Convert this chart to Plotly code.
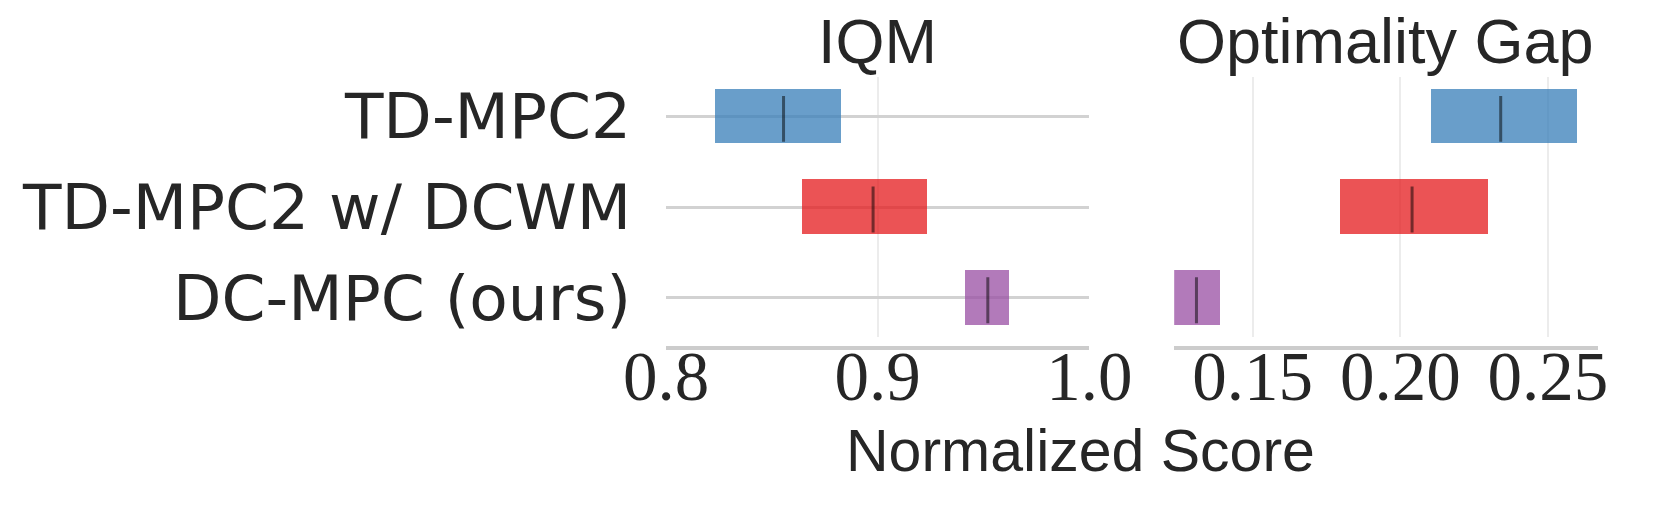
import plotly.graph_objects as go

# ---- data (bottom to top) ----
algorithms = ["DC-MPC (ours)", "TD-MPC2 w/ DCWM", "TD-MPC2"]
colors = ["rgba(152,78,163,0.75)", "rgba(228,26,28,0.75)", "rgba(55,126,184,0.75)"]

iqm_lower = [0.9414, 0.8642, 0.8232]
iqm_upper = [0.9619, 0.9232, 0.8829]
iqm_point = [0.9520, 0.8978, 0.8555]

gap_lower = [0.1235, 0.1796, 0.2104]
gap_upper = [0.1389, 0.2296, 0.2599]
gap_point = [0.1310, 0.2040, 0.2340]

panel_titles = ["IQM", "Optimality Gap"]
iqm_ticks = [0.8, 0.9, 1.0]
iqm_ticktext = ["0.8", "0.9", "1.0"]
gap_ticks = [0.15, 0.20, 0.25]
gap_ticktext = ["0.15", "0.20", "0.25"]
x_label = "Normalized Score"

W, H = 1660, 505
BAR_H = 0.6
TEXT = "#262626"

fig = go.Figure()

def add_panel(lower, upper, point, xa, ya):
    pos = list(range(len(algorithms)))
    fig.add_trace(go.Bar(
        y=pos, x=[u - l for l, u in zip(lower, upper)], base=lower,
        orientation="h", width=BAR_H,
        marker=dict(color=colors, line=dict(width=0)),
        xaxis=xa, yaxis=ya, showlegend=False, hoverinfo="skip"))
    xs, ys = [], []
    for p, m in zip(pos, point):
        xs += [m, m, None]
        ys += [p - 7.5 * BAR_H / 16, p + 6 * BAR_H / 16, None]
    fig.add_trace(go.Scatter(
        x=xs, y=ys, mode="lines", line=dict(color="rgba(0,0,0,0.5)", width=3),
        xaxis=xa, yaxis=ya, showlegend=False, hoverinfo="skip"))

add_panel(iqm_lower, iqm_upper, iqm_point, "x", "y")
add_panel(gap_lower, gap_upper, gap_point, "x2", "y2")

ydom = [(H - 336.7) / H, (H - 77.3) / H]
spine_y = (H - 348.3) / H
yrange = [-0.43, len(algorithms) - 1 + 0.43]

tickfont = dict(family="Liberation Serif, DejaVu Serif, serif", size=69, color=TEXT)
common_x = dict(showline=True, linecolor="#cccccc", linewidth=4, anchor="free",
                position=spine_y, showgrid=True, gridcolor="#ececec", gridwidth=2,
                zeroline=False, ticks="", tickfont=tickfont, ticklabelstandoff=-33)

fig.update_layout(
    width=W, height=H,
    margin=dict(l=0, r=0, t=0, b=0),
    paper_bgcolor="white", plot_bgcolor="white",
    bargap=0,
    xaxis=dict(domain=[657.1 / W, 1103.6 / W], range=[0.8, 1.0],
               tickvals=iqm_ticks, ticktext=iqm_ticktext, **common_x),
    xaxis2=dict(domain=[1193 / W, 1639.7 / W], range=[0.12346, 0.26686],
                tickvals=gap_ticks, ticktext=gap_ticktext, **common_x),
    yaxis=dict(domain=ydom, range=yrange, tickvals=list(range(len(algorithms))),
               ticktext=algorithms, showgrid=True, gridcolor="#d2d2d2", gridwidth=2.5,
               zeroline=False, showline=False, ticks="",
               tickfont=dict(family="DejaVu Sans, sans-serif", size=63, color=TEXT),
               ticklabelstandoff=34),
    yaxis2=dict(domain=ydom, range=yrange, anchor="x2", showgrid=False,
                zeroline=False, showline=False, showticklabels=False),
)

titlefont = dict(family="Liberation Sans, Arial, sans-serif", size=63, color=TEXT)
fig.add_annotation(text=panel_titles[0], xref="x domain", yref="paper", x=0.5,
                   y=(H - 41) / H, xanchor="center", yanchor="middle",
                   showarrow=False, font=titlefont)
fig.add_annotation(text=panel_titles[1], xref="x2 domain", yref="paper", x=0.5,
                   y=(H - 41) / H, xanchor="center", yanchor="middle",
                   showarrow=False, font=titlefont)
fig.add_annotation(text=x_label, xref="paper", yref="paper", x=1094 / W,
                   y=(H - 451) / H, xanchor="center", yanchor="middle",
                   showarrow=False, font=dict(family="Liberation Sans, Arial, sans-serif",
                                              size=59, color=TEXT))

fig.write_html(
    "out.html",
    config={"displayModeBar": False},
    post_script="document.body.style.margin='0';document.body.style.overflow='hidden';",
)
